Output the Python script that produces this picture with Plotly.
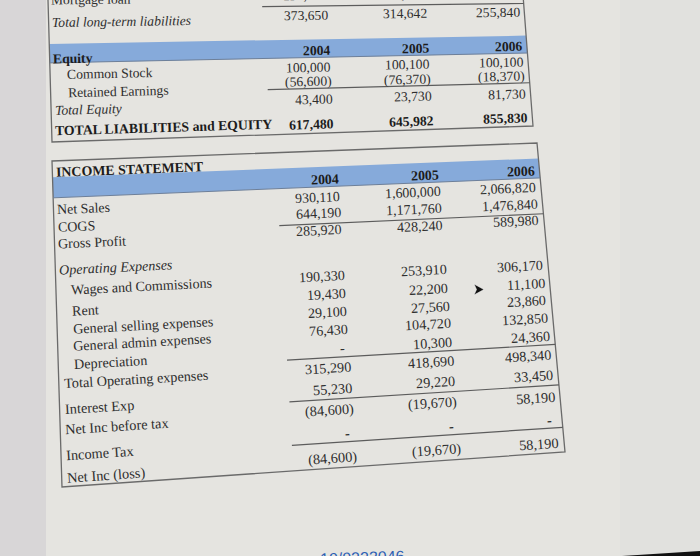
import math
import plotly.graph_objects as go

# ---------------- data ----------------
years = ["2004", "2005", "2006"]

bs_labels = ["Mortgage loan", "Total long-term liabilities", "Equity", "Common Stock",
             "Retained Earnings", "Total Equity", "TOTAL LIABILITIES and EQUITY"]
mortgage_loan = [190310, 170310, 255840]          # only partly visible at the top edge
total_long_term_liabilities = [373650, 314642, 255840]
common_stock = [100000, 100100, 100100]
retained_earnings = [-56600, -76370, -18370]
total_equity = [43400, 23730, 81730]
total_liabilities_equity = [617480, 645982, 855830]

is_title = "INCOME STATEMENT"
is_labels = ["Net Sales", "COGS", "Gross Profit", "Operating Expenses",
             "Wages and Commissions", "Rent", "General selling expenses",
             "General admin expenses", "Depreciation", "Total Operating expenses",
             "Interest Exp", "Net Inc before tax", "Income Tax", "Net Inc (loss)"]
net_sales = [930110, 1600000, 2066820]
cogs = [644190, 1171760, 1476840]
gross_profit = [285920, 428240, 589980]
wages_commissions = [190330, 253910, 306170]
rent = [19430, 22200, 11100]
general_selling = [29100, 27560, 23860]
general_admin = [76430, 104720, 132850]
depreciation = [0, 10300, 24360]
total_operating = [315290, 418690, 498340]
interest_exp = [55230, 29220, 33450]
net_inc_before_tax = [-84600, -19670, 58190]
income_tax = [0, 0, 0]
net_inc_loss = [-84600, -19670, 58190]

footer_text = "10/0223046-"

# ---------------- styling / geometry ----------------
W, H = 700, 556
SERIF = "Liberation Serif, Times New Roman, serif"
TXT = "#2e2e2e"
DARK = "#1c1c1c"
BLUE = "#86aada"
LINE = "#5c5c5c"


def fmt(n):
    if n == 0:
        return "-"
    if n < 0:
        return "({:,})".format(-n)
    return "{:,}".format(n)


def quad(TL, TR, BR, BL):
    """bilinear map from sheet coords (u,v in 0..1) to picture coords"""
    def f(u, v):
        xt = TL[0] + u * (TR[0] - TL[0]); yt = TL[1] + u * (TR[1] - TL[1])
        xb = BL[0] + u * (BR[0] - BL[0]); yb = BL[1] + u * (BR[1] - BL[1])
        return xt + v * (xb - xt), yt + v * (yb - yt)
    return f


BS = quad((48, 0), (523, -5), (533, 126), (52, 142))
IS = quad((52, 161), (537, 143), (565, 452), (62, 487))

COL_U = [0.59, 0.797, 0.993]
LAB_U, IND_U = 0.005, 0.029

annotations = []
shapes = []


def clamp_y(y):
    """annotations outside the axis range are hidden: keep anchor inside, shift in px"""
    if y < 0.5:
        return 0.5, 0.5 - y
    if y > H - 0.5:
        return H - 0.5, (H - 0.5) - y
    return y, 0


def put(m, u, v, s, anchor="left", bold=False, italic=False, color=TXT, xshift=0):
    x, y = m(u, v)
    xa, ya = m(max(u - 0.05, 0), v)
    xb, yb = m(min(u + 0.05, 1), v)
    ang = math.degrees(math.atan2(yb - ya, xb - xa))
    width = math.hypot(m(1, v)[0] - m(0, v)[0], m(1, v)[1] - m(0, v)[1])
    size = 14.0 * width / 490.0
    if bold:
        s = "<b>" + s + "</b>"
    if italic:
        s = "<i>" + s + "</i>"
    y, ys = clamp_y(y)
    annotations.append(dict(x=x, y=y, xref="x", yref="y", text=s, showarrow=False,
                            xanchor=anchor, yanchor="middle", textangle=ang,
                            xshift=xshift, yshift=ys, borderpad=0,
                            font=dict(family=SERIF, size=size, color=color)))


def put_values(m, v, vals, bold=False, color=TXT):
    for u, n in zip(COL_U, vals):
        s = fmt(n)
        put(m, u, v, s, anchor="right", bold=bold, color=color,
            xshift=-5 if s == "-" else 0)


def hline(m, v, u0=0.46, u1=1.0, color=LINE, width=1.2):
    x0, y0 = m(u0, v); x1, y1 = m(u1, v)
    shapes.append(dict(type="line", xref="x", yref="y", x0=x0, y0=y0, x1=x1, y1=y1,
                       line=dict(color=color, width=width)))


def band(m, v0, v1):
    pts = [m(0, v0), m(1, v0), m(1, v1), m(0, v1)]
    path = "M " + " L ".join("{:.2f},{:.2f}".format(*p) for p in pts) + " Z"
    shapes.append(dict(type="path", xref="x", yref="y", path=path,
                       fillcolor=BLUE, line=dict(width=0), layer="below"))
    hline(m, v1, 0, 1, color="#6d7f99", width=1)


def border(m, closed=True):
    if closed:
        seq = [m(0, 0), m(1, 0), m(1, 1), m(0, 1)]
        path = "M " + " L ".join("{:.2f},{:.2f}".format(*p) for p in seq) + " Z"
    else:
        seq = [m(1, -0.1), m(1, 1), m(0, 1), m(0, -0.1)]
        path = "M " + " L ".join("{:.2f},{:.2f}".format(*p) for p in seq)
    shapes.append(dict(type="path", xref="x", yref="y", path=path,
                       line=dict(color="#6a6a6a", width=1.3)))


# ---------- background ----------
shapes.append(dict(type="rect", xref="x", yref="y", x0=0, x1=46, y0=0, y1=H,
                   fillcolor="#d8d6d7", line=dict(width=0), layer="below"))
shapes.append(dict(type="rect", xref="x", yref="y", x0=620, x1=W, y0=0, y1=H,
                   fillcolor="#e0e0dd", line=dict(width=0), layer="below", opacity=0.7))
shapes.append(dict(type="path", xref="x", yref="y",
                   path="M 622,556 L 700,551 L 700,556 Z",
                   fillcolor="#111111", line=dict(width=0)))

# ---------- balance sheet part ----------
border(BS, closed=False)
put(BS, LAB_U, 0.0, bs_labels[0])
put_values(BS, -0.012, mortgage_loan)
hline(BS, 0.065, 0.45)
put(BS, LAB_U, 0.155, bs_labels[1], italic=True)
put_values(BS, 0.133, total_long_term_liabilities)
band(BS, 0.31, 0.443)
for u, yr in zip(COL_U, years):
    put(BS, u, 0.392, yr, anchor="right", bold=True, color=DARK)
put(BS, LAB_U, 0.415, bs_labels[2], bold=True, color=DARK)
put(BS, 0.033, 0.517, bs_labels[3])
put_values(BS, 0.517, common_stock)
put(BS, 0.033, 0.644, bs_labels[4])
put_values(BS, 0.628, retained_earnings)
hline(BS, 0.67, 0.453)
put(BS, LAB_U, 0.775, bs_labels[5], italic=True)
put_values(BS, 0.755, total_equity)
put(BS, LAB_U, 0.896, bs_labels[6], bold=True, color=DARK)
put_values(BS, 0.94, total_liabilities_equity, bold=True, color=DARK)

# ---------- income statement ----------
border(IS)
put(IS, LAB_U, 0.027, is_title, bold=True, color=DARK)
band(IS, 0.05, 0.113)
for u, yr in zip(COL_U, years):
    put(IS, u, 0.093, yr, anchor="right", bold=True, color=DARK)

is_rows = [
    # label, label u, label v, values, value v, italic
    (is_labels[0], LAB_U, 0.146, net_sales, 0.148, False),
    (is_labels[1], LAB_U, 0.200, cogs, 0.201, False),
    (is_labels[2], LAB_U, 0.250, gross_profit, 0.255, False),
    (is_labels[3], 0.004, 0.326, None, None, True),
    (is_labels[4], IND_U, 0.386, wages_commissions, 0.396, False),
    (is_labels[5], IND_U, 0.459, rent, 0.456, False),
    (is_labels[6], IND_U, 0.504, general_selling, 0.512, False),
    (is_labels[7], IND_U, 0.558, general_admin, 0.568, False),
    (is_labels[8], IND_U, 0.620, depreciation, 0.627, False),
    (is_labels[9], 0.007, 0.670, total_operating, 0.688, False),
    (is_labels[10], 0.007, 0.756, interest_exp, 0.754, False),
    (is_labels[11], 0.007, 0.815, net_inc_before_tax, 0.823, False),
    (is_labels[12], 0.007, 0.895, income_tax, 0.895, False),
    (is_labels[13], 0.007, 0.966, net_inc_loss, 0.974, False),
]
for lab, lu, lv, vals, vv, it in is_rows:
    put(IS, lu, lv, lab, italic=it)
    if vals is not None:
        put_values(IS, vv, vals)

for v in (0.229, 0.652, 0.783, 0.92):
    hline(IS, v)

# mouse cursor seen in the photo
shapes.append(dict(type="path", xref="x", yref="y",
                   path="M 474,284 L 484,289.5 L 474,295 L 476.5,289.5 Z",
                   fillcolor="#111111", line=dict(color="#f4f4f4", width=0.6)))

# footer text cut by the bottom edge
fy, fys = clamp_y(557)
annotations.append(dict(x=365, y=fy, yshift=fys, xref="x", yref="y", text=footer_text,
                        showarrow=False, xanchor="center", yanchor="middle",
                        textangle=-2,
                        font=dict(family="Liberation Sans, Arial, sans-serif", size=16,
                                  color="#2d5fb4")))

fig = go.Figure(go.Scatter(x=[0], y=[0], mode="markers", marker=dict(opacity=0),
                           hoverinfo="skip", showlegend=False))
fig.update_layout(
    width=W, height=H, margin=dict(l=0, r=0, t=0, b=0),
    paper_bgcolor="#e5e4e0", plot_bgcolor="#e5e4e0",
    xaxis=dict(range=[0, W], visible=False, fixedrange=True),
    yaxis=dict(range=[H, 0], visible=False, fixedrange=True),
    shapes=shapes, annotations=annotations, showlegend=False,
)
fig.write_html("out.html", config={"displayModeBar": False},
               post_script="document.body.style.margin='0';document.body.style.overflow='hidden';")
